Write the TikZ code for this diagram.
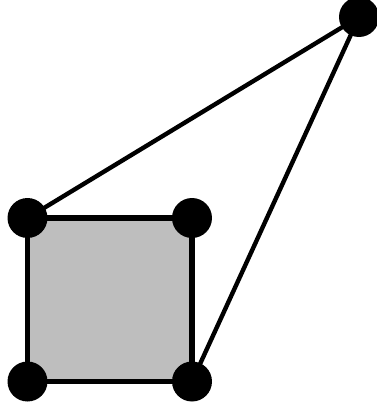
\documentclass[tikz,border=0pt]{standalone}
\usepackage{tikz}
\definecolor{facegray}{HTML}{BEBEBE}
\tikzset{
  every picture/.style={line join=round, line cap=round},
  vertex/.style={circle, fill=black, inner sep=0pt, minimum size=0.8cm},
  edge/.style={line width=2.5pt},
  face/.style={fill=facegray, draw=black, line width=3pt},
}

\begin{document}
\begin{tikzpicture}[x=0.02cm,y=-0.02cm]
\useasboundingbox (0,0) rectangle (376,406);
\coordinate (bl) at (27.5,381.5);
\coordinate (br) at (192,381.5);
\coordinate (tr) at (192,218);
\coordinate (tl) at (27.5,218);
\coordinate (apex) at (359,17);
\draw[face] (bl) -- (br) -- (tr) -- (tl) -- cycle;
\draw[edge] (tl) -- (apex);
\draw[edge] (br) -- (apex);
\foreach \v in {bl,br,tr,tl,apex}
  \node[vertex] (dot-\v) at (\v) {};
\end{tikzpicture}
\end{document}
